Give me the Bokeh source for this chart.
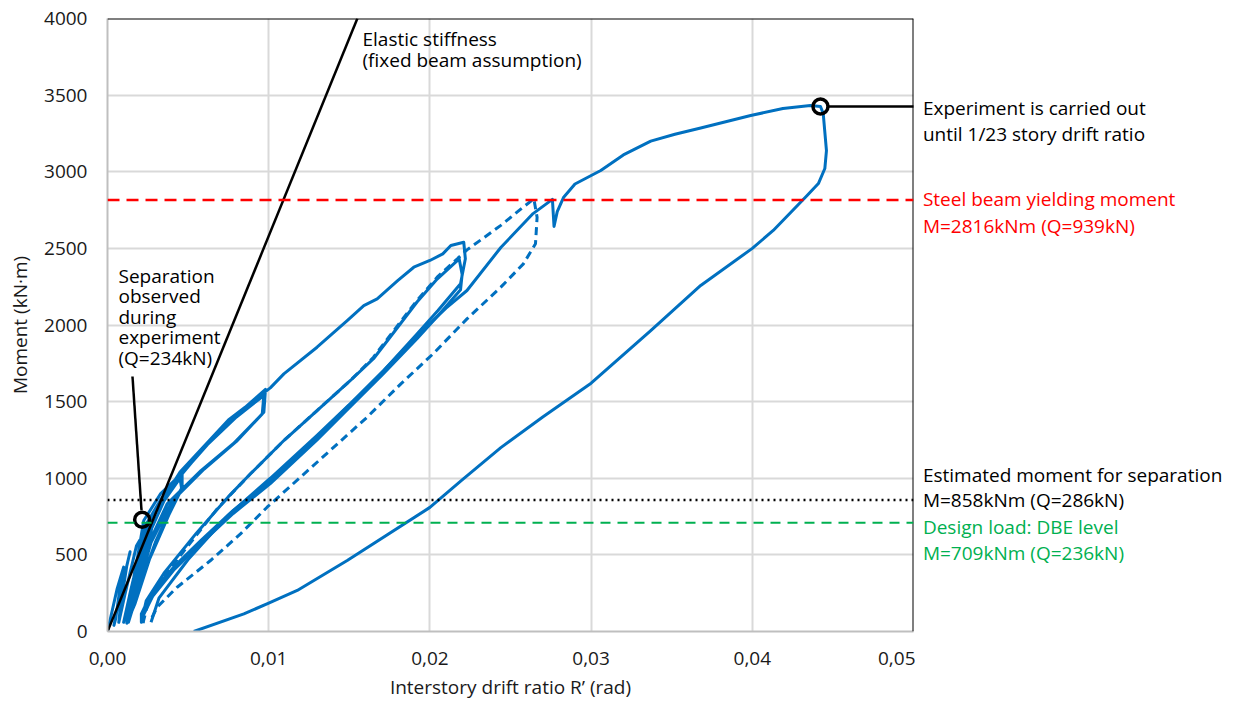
from bokeh.plotting import figure
from bokeh.layouts import row
from bokeh.models import Range1d, FixedTicker, CustomJSTickFormatter, Label, Span
from bokeh.embed import file_html
from bokeh.resources import INLINE

# ---------------- data ----------------
# solid hysteresis path (interstory drift ratio, moment kN·m)
solid_x = [0, 0.0006, 0.0010, 0.0008, 0.0005, 0.0004,
           0.0008, 0.0014, 0.0012, 0.0008, 0.0007,
           0.0011, 0.0018, 0.0023, 0.0021, 0.0014, 0.0010,
           0.0014, 0.0022, 0.0028, 0.0026, 0.0016, 0.0012,
           0.0017, 0.0024, 0.0033, 0.0040, 0.00463, 0.00463, 0.0040, 0.0030, 0.0020, 0.0013,
           0.0018, 0.0026, 0.0035, 0.0045, 0.0046, 0.0038, 0.0026, 0.0017, 0.0012,
           0.0016, 0.00225, 0.0033, 0.0047, 0.0068, 0.0085, 0.0098, 0.0097, 0.0078, 0.0058, 0.0037, 0.0025, 0.0016, 0.0012,
           0.0017, 0.0026, 0.0040, 0.0060, 0.0080, 0.0097, 0.0096, 0.0080, 0.0060, 0.0040, 0.0027, 0.0018, 0.0013,
           0.0018, 0.0027, 0.0045, 0.0075, 0.0101, 0.01094, 0.0130, 0.01487, 0.0159, 0.01673, 0.0180, 0.0190,
           0.0200, 0.0208, 0.0213, 0.0221, 0.0222, 0.0219, 0.0205, 0.0192, 0.01714, 0.01507, 0.0130, 0.0101,
           0.0078, 0.0058, 0.0041, 0.0027, 0.0021, 0.0021,
           0.0024, 0.0035, 0.0055, 0.0075, 0.00887, 0.01094, 0.0130, 0.01507, 0.0165, 0.0176, 0.0192, 0.02045,
           0.0217, 0.0218, 0.0220, 0.0219, 0.0205, 0.0192, 0.0171, 0.0150, 0.0130, 0.0101, 0.0078, 0.0058,
           0.0041, 0.0028, 0.0022, 0.0022]
solid_y = [0, 280, 420, 300, 80, 40,
           250, 520, 430, 160, 60,
           250, 560, 650, 560, 250, 60,
           240, 580, 700, 600, 220, 60,
           400, 700, 860, 960, 1033, 942, 820, 590, 300, 60,
           330, 640, 850, 1000, 930, 760, 470, 180, 55,
           320, 724, 900, 1040, 1290, 1460, 1580, 1431, 1225, 1050, 833, 560, 230, 60,
           340, 720, 950, 1200, 1400, 1540, 1420, 1240, 1060, 850, 580, 250, 60,
           360, 740, 1040, 1380, 1590, 1681, 1855, 2029, 2127, 2171, 2290, 2377,
           2421, 2464, 2519, 2540, 2432, 2269, 2095, 1942, 1703, 1486, 1268, 985,
           790, 594, 420, 246, 115, 60,
           200, 380, 640, 880, 1029, 1246, 1442, 1638, 1780, 1930, 2150, 2300,
           2420, 2440, 2330, 2230, 2060, 1910, 1680, 1460, 1250, 965, 770, 575,
           400, 230, 100, 55]

# final cycle (up to 1/23 story drift) and unloading
final_x = [0.0027, 0.0032, 0.0050, 0.0075, 0.0101, 0.0130, 0.0150, 0.0171, 0.0192, 0.0210, 0.0223,
           0.0244, 0.0264, 0.0276, 0.0277, 0.0279, 0.0283, 0.0290, 0.0306, 0.0320, 0.0337, 0.0352,
           0.0368, 0.0399, 0.0419, 0.0436, 0.04423, 0.0444, 0.0446, 0.0445, 0.0441, 0.0434, 0.0413,
           0.0400, 0.0368, 0.0337, 0.0300, 0.0270, 0.0244, 0.0220, 0.0200, 0.01487, 0.01177, 0.0100,
           0.00846, 0.00535]
final_y = [60, 220, 470, 760, 1000, 1280, 1480, 1700, 1930, 2110, 2225,
           2506, 2727, 2820, 2643, 2740, 2834, 2920, 3008, 3110, 3200, 3245,
           3285, 3367, 3413, 3432, 3426, 3380, 3138, 3021, 2923, 2845, 2617,
           2500, 2258, 1964, 1620, 1400, 1200, 990, 810, 463, 268, 185,
           115, 0]

# dashed cycle
dash_x = [0.0022, 0.0025, 0.0033, 0.0050, 0.0068, 0.00887, 0.01094, 0.0130, 0.01507, 0.0165, 0.0176,
          0.0192, 0.02045, 0.0217, 0.0223, 0.0244, 0.0258, 0.02645, 0.02665, 0.02655, 0.0258, 0.0244,
          0.0223, 0.0202, 0.0182, 0.0161, 0.01404, 0.01197, 0.0099, 0.00825, 0.00639, 0.00432,
          0.00308, 0.00267]
dash_y = [55, 180, 330, 560, 800, 1029, 1246, 1442, 1638, 1790, 1942,
          2160, 2312, 2432, 2490, 2650, 2770, 2823, 2703, 2530, 2399, 2247,
          2040, 1812, 1616, 1398, 1203, 1007, 811, 637, 463, 289,
          159, 72]

# elastic stiffness (fixed beam assumption)
elastic_x = [0, 0.0155]
elastic_y = [0, 4000]

# reference moment levels
yield_M = 2816
separation_M = 858
dbe_M = 709

# markers
marker_x = [0.00215, 0.04423]
marker_y = [729, 3426]
sep_leader_x = [0.00155, 0.00211]
sep_leader_y = [1664, 790]
end_leader_x = [0.0447, 0.0502]
end_leader_y = [3426, 3426]

x_ticks = [0, 0.01, 0.02, 0.03, 0.04, 0.05]
y_ticks = [0, 500, 1000, 1500, 2000, 2500, 3000, 3500, 4000]

BLUE = "#0070C0"
FONT = "Open Sans"
FS = "19px"
TXT = "#1a1a1a"

p = figure(width=915, height=708, output_backend="svg", toolbar_location=None,
           x_range=Range1d(0, 0.05), y_range=Range1d(0, 4000),
           min_border_left=107, min_border_right=2, min_border_top=18, min_border_bottom=77)
p.outline_line_color = None
p.background_fill_color = "white"

p.xaxis.ticker = FixedTicker(ticks=x_ticks)
p.yaxis.ticker = FixedTicker(ticks=y_ticks)
p.xaxis.formatter = CustomJSTickFormatter(code="return tick.toFixed(2).replace('.', ',');")
for ax in (p.xaxis, p.yaxis):
    ax.axis_line_color = "#bfbfbf"
    ax.axis_line_width = 2
    ax.major_tick_line_color = None
    ax.minor_tick_line_color = None
    ax.major_tick_in = 0
    ax.major_tick_out = 0
    ax.major_label_text_font = FONT
    ax.major_label_text_font_size = FS
    ax.major_label_text_color = TXT
    ax.axis_label_text_font = FONT
    ax.axis_label_text_font_size = FS
    ax.axis_label_text_font_style = "normal"
    ax.axis_label_text_color = TXT
p.xaxis.axis_label = "Interstory drift ratio R\u2019 (rad)"
p.yaxis.axis_label = "Moment (kN\u00b7m)"
p.xaxis.major_label_standoff = 20
p.xaxis.axis_label_standoff = 6
p.yaxis.major_label_standoff = 20
p.yaxis.axis_label_standoff = 8

p.grid.grid_line_color = "#d9d9d9"
p.grid.grid_line_width = 2

# borders top and right
p.add_layout(Span(location=4000, dimension="width", line_color="black", line_width=2))
p.add_layout(Span(location=0.05, dimension="height", line_color="black", line_width=2))

# reference lines
p.add_layout(Span(location=yield_M, dimension="width", line_color="#FF0000", line_width=2.5, line_dash="12 7"))
p.add_layout(Span(location=separation_M, dimension="width", line_color="black", line_width=2.5, line_dash="2 4"))
p.add_layout(Span(location=dbe_M, dimension="width", line_color="#00B050", line_width=2, line_dash="10 7"))

# hysteresis
p.line(solid_x, solid_y, line_color=BLUE, line_width=3, line_join="round")
p.line(final_x, final_y, line_color=BLUE, line_width=3, line_join="round")
p.line(dash_x, dash_y, line_color=BLUE, line_width=3, line_dash="8 5")

# elastic
p.line(elastic_x, elastic_y, line_color="black", line_width=2.5)

# markers and leaders
p.line(sep_leader_x, sep_leader_y, line_color="black", line_width=2.5)
p.line(end_leader_x, end_leader_y, line_color="black", line_width=2.5)
p.scatter(marker_x, marker_y, size=15, fill_color=None, line_color="black", line_width=3.5)


def lab(fig, x, y, t, c="black"):
    fig.add_layout(Label(x=x, y=y, text=t, text_font=FONT, text_font_size=FS,
                         text_color=c, text_baseline="middle", text_align="left"))


lab(p, 0.01582, 3869, "Elastic stiffness")
lab(p, 0.01582, 3732, "(fixed beam assumption)")
for i, t in enumerate(["Separation", "observed", "during", "experiment", "(Q=234kN)"]):
    lab(p, 0.00068, 2323 - i * 134, t)

# right-hand annotation panel (same vertical scale, continues the drift axis)
p2 = figure(width=325, height=708, output_backend="svg", toolbar_location=None,
            x_range=Range1d(0.0501, 0.0501 + 325 / 16120), y_range=Range1d(0, 4000),
            x_axis_location=None, y_axis_location=None,
            min_border_left=0, min_border_right=0, min_border_top=18, min_border_bottom=77)
p2.outline_line_color = None
p2.grid.visible = False

XR = 0.05056
lab(p2, XR, 3419, "Experiment is carried out")
lab(p2, XR, 3249, "until 1/23 story drift ratio")
lab(p2, XR, 2825, "Steel beam yielding moment", "#FF0000")
lab(p2, XR, 2649, "M=2816kNm (Q=939kN)", "#FF0000")
lab(p2, XR, 1024, "Estimated moment for separation")
lab(p2, XR, 855, "M=858kNm (Q=286kN)")
lab(p2, XR, 685, "Design load: DBE level", "#00B050")
lab(p2, XR, 515, "M=709kNm (Q=236kN)", "#00B050")

open("out.html", "w").write(file_html(row(p, p2), INLINE))
